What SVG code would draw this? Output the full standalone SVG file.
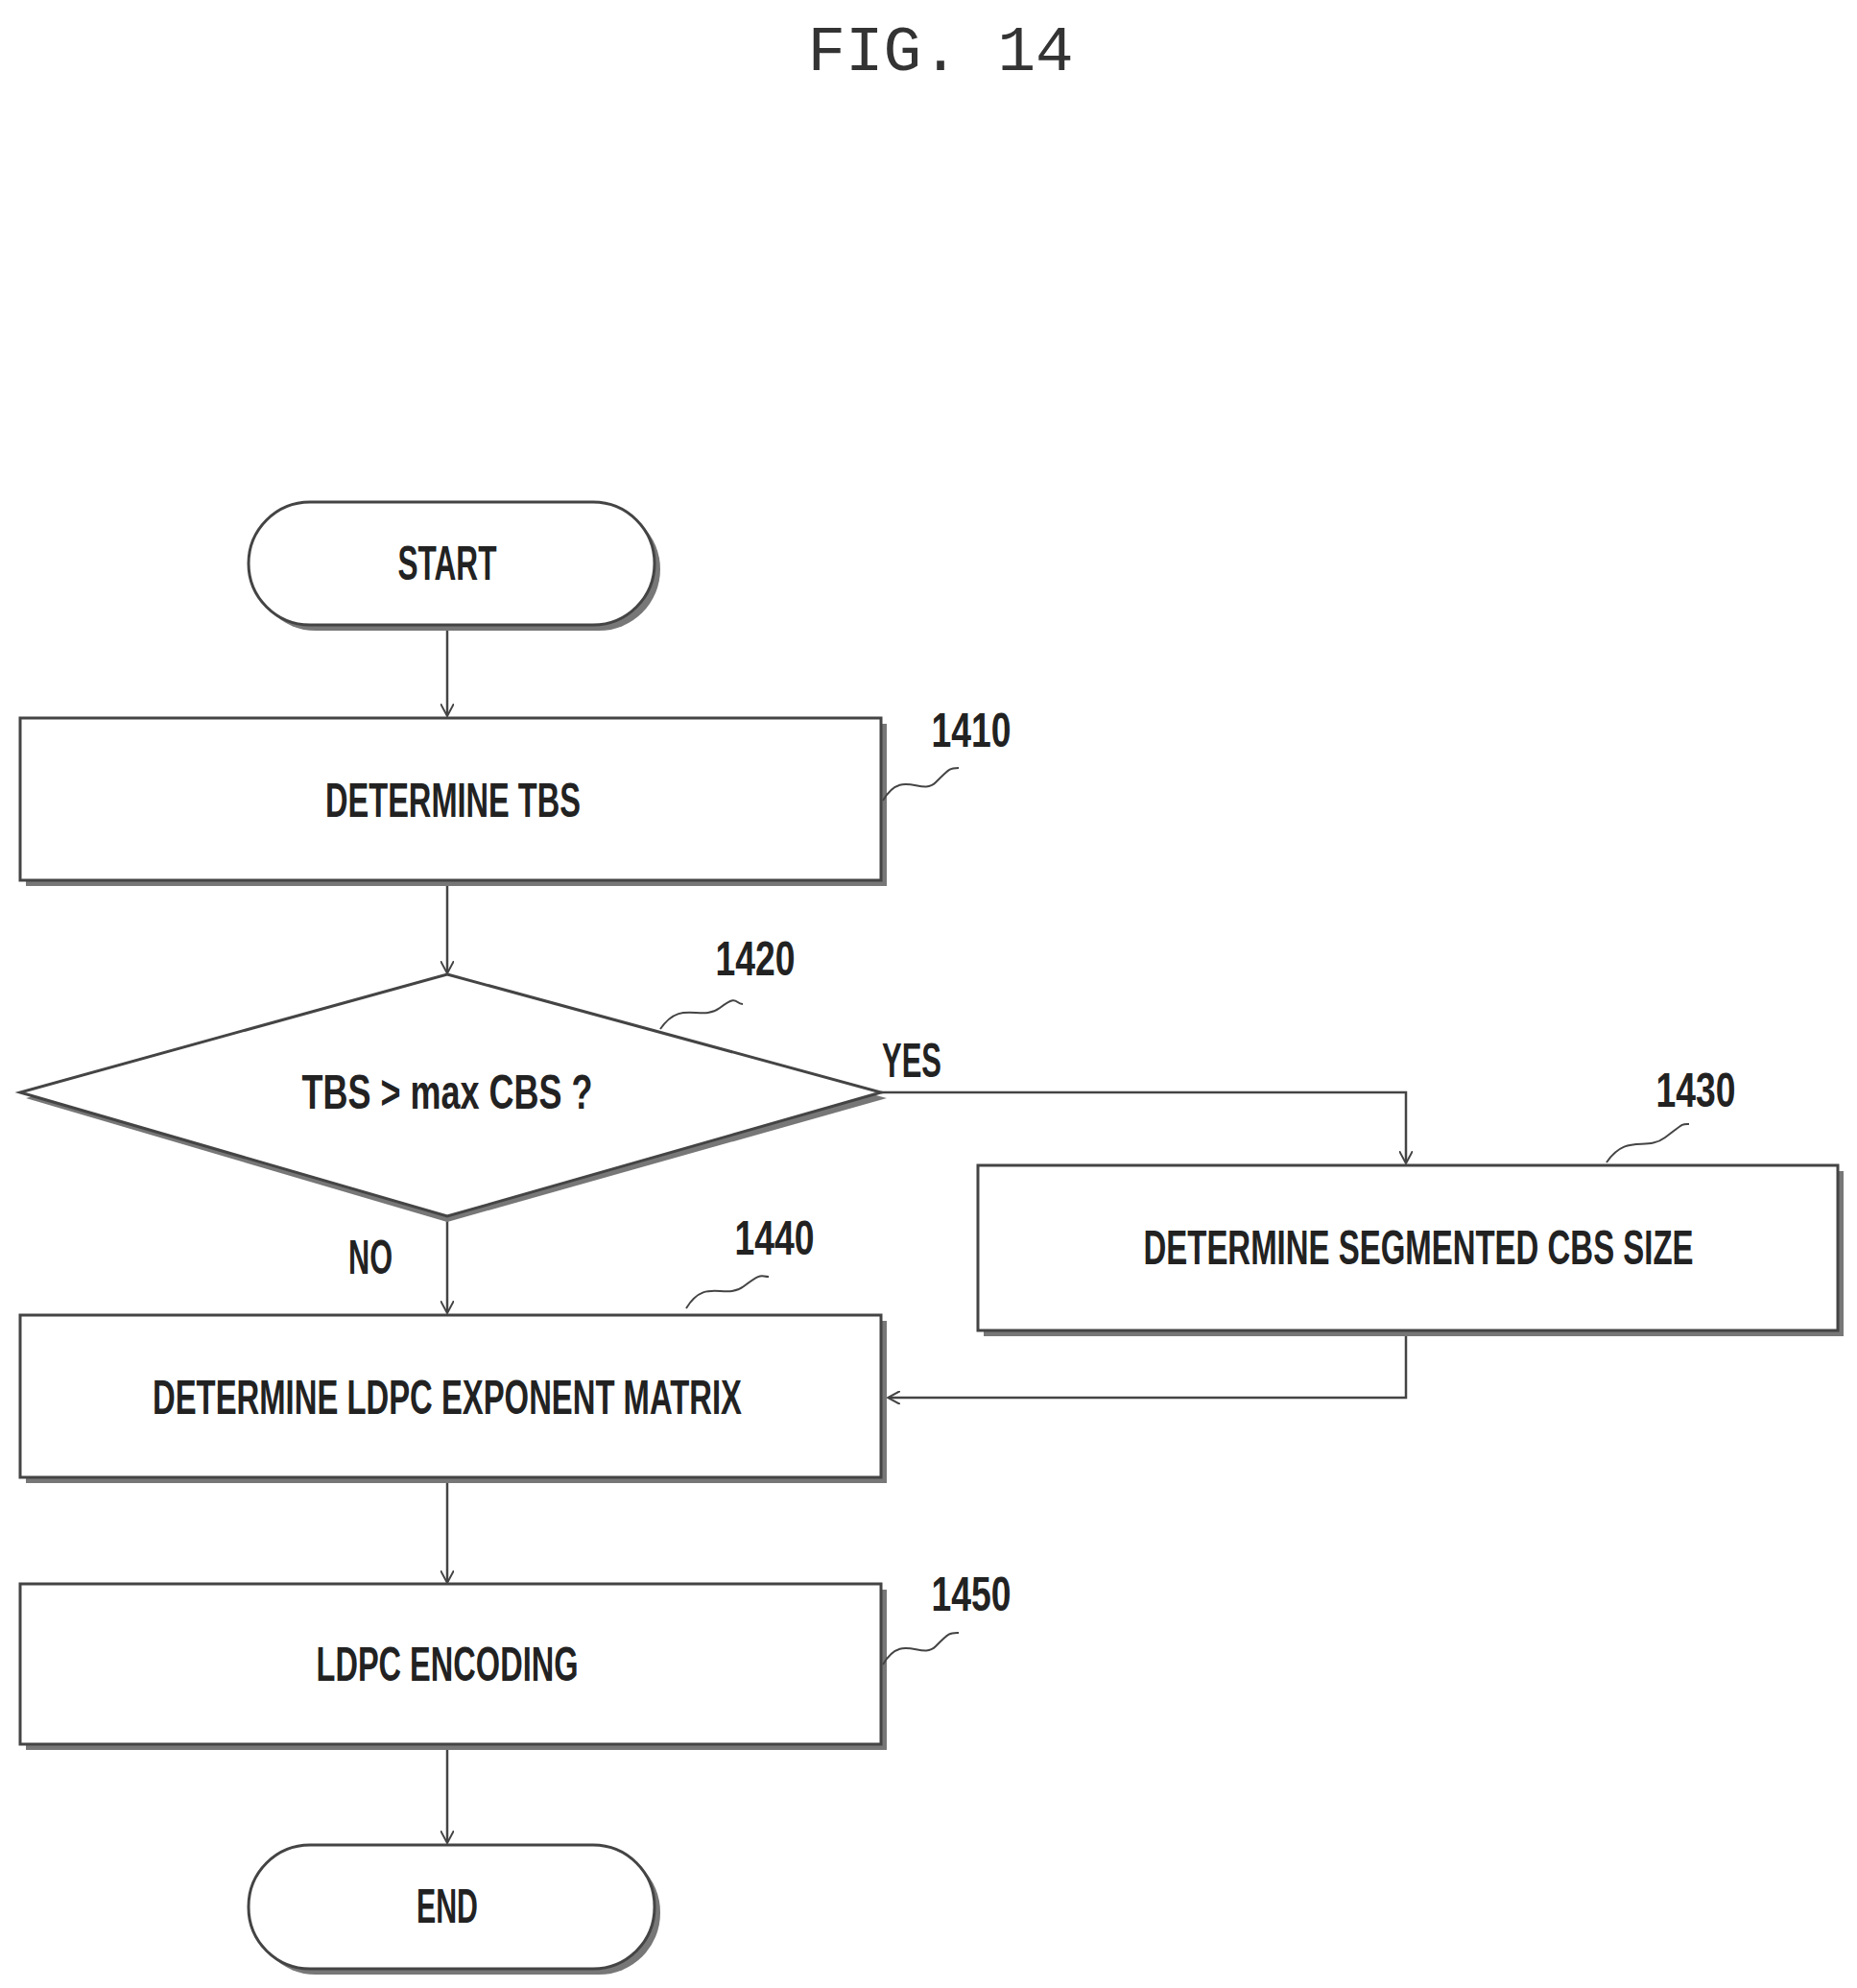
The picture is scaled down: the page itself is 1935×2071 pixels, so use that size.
<svg xmlns="http://www.w3.org/2000/svg" width="1935" height="2071" viewBox="0 0 1935 2071">
<defs>
<style>
.sh{fill:#777;stroke:none}
.bx{fill:#fff;stroke:#444;stroke-width:3}
.t{font-family:"Liberation Sans",sans-serif;font-weight:bold;font-size:50px;fill:#222;text-anchor:middle;dominant-baseline:central}
.lb{font-family:"Liberation Sans",sans-serif;font-weight:bold;font-size:50px;fill:#222;text-anchor:middle;dominant-baseline:central}
.ln{fill:none;stroke:#444;stroke-width:2.5}
.sq{fill:none;stroke:#444;stroke-width:2}
</style>
<marker id="ar" markerWidth="14" markerHeight="14" refX="12" refY="7" orient="auto" markerUnits="userSpaceOnUse">
<path d="M0,0 L13,7 L0,14" fill="none" stroke="#444" stroke-width="2"/>
</marker>
</defs>
<rect width="1935" height="2071" fill="#fff"/>
<text x="980" y="55" font-family="Liberation Mono,monospace" font-size="66" fill="#333" text-anchor="middle" dominant-baseline="central">FIG. 14</text>

<g id="connectors">
<line class="ln" x1="466" y1="651" x2="466" y2="745" marker-end="url(#ar)"/>
<line class="ln" x1="466" y1="917" x2="466" y2="1013" marker-end="url(#ar)"/>
<polyline class="ln" points="918,1138 1465,1138 1465,1211" marker-end="url(#ar)"/>
<line class="ln" x1="466" y1="1267" x2="466" y2="1367" marker-end="url(#ar)"/>
<polyline class="ln" points="1465,1386 1465,1456 926,1456" marker-end="url(#ar)"/>
<line class="ln" x1="466" y1="1539" x2="466" y2="1648" marker-end="url(#ar)"/>
<line class="ln" x1="466" y1="1817" x2="466" y2="1919" marker-end="url(#ar)"/>
<text class="lb" x="950" y="1105" textLength="62" lengthAdjust="spacingAndGlyphs">YES</text>
<text class="lb" x="386" y="1310" textLength="46" lengthAdjust="spacingAndGlyphs">NO</text>
</g>

<g id="start">
<rect class="sh" x="265" y="529" width="423" height="128" rx="64"/>
<rect class="bx" x="259" y="523" width="423" height="128" rx="64"/>
<text class="t" x="466" y="587" textLength="103" lengthAdjust="spacingAndGlyphs">START</text>
</g>

<g id="n1410">
<rect class="sh" x="27" y="754" width="897" height="169"/>
<rect class="bx" x="21" y="748" width="897" height="169"/>
<text class="t" x="472" y="834" textLength="266" lengthAdjust="spacingAndGlyphs">DETERMINE TBS</text>
<path class="sq" d="M920,834 C940,800 960,830 975,815 S990,800 999,800"/>
<text class="lb" x="1012" y="761" textLength="83" lengthAdjust="spacingAndGlyphs">1410</text>
</g>

<g id="n1420">
<polygon class="sh" points="466,1021 924,1144 466,1273 27,1144"/>
<polygon class="bx" points="466,1015 918,1138 466,1267 21,1138"/>
<text class="t" x="466" y="1138" textLength="303" lengthAdjust="spacingAndGlyphs">TBS &gt; max CBS ?</text>
<path class="sq" d="M688,1072 C710,1040 730,1065 750,1050 S765,1046 774,1046"/>
<text class="lb" x="787" y="999" textLength="83" lengthAdjust="spacingAndGlyphs">1420</text>
</g>

<g id="n1430">
<rect class="sh" x="1025" y="1220" width="896" height="172"/>
<rect class="bx" x="1019" y="1214" width="896" height="172"/>
<text class="t" x="1478" y="1300" textLength="573" lengthAdjust="spacingAndGlyphs">DETERMINE SEGMENTED CBS SIZE</text>
<path class="sq" d="M1674,1211 C1695,1180 1715,1200 1735,1185 S1752,1171 1760,1171"/>
<text class="lb" x="1767" y="1136" textLength="83" lengthAdjust="spacingAndGlyphs">1430</text>
</g>

<g id="n1440">
<rect class="sh" x="27" y="1376" width="897" height="169"/>
<rect class="bx" x="21" y="1370" width="897" height="169"/>
<text class="t" x="466" y="1456" textLength="614" lengthAdjust="spacingAndGlyphs">DETERMINE LDPC EXPONENT MATRIX</text>
<path class="sq" d="M715,1363 C735,1330 755,1355 775,1340 S792,1330 801,1330"/>
<text class="lb" x="807" y="1290" textLength="83" lengthAdjust="spacingAndGlyphs">1440</text>
</g>

<g id="n1450">
<rect class="sh" x="27" y="1656" width="897" height="167"/>
<rect class="bx" x="21" y="1650" width="897" height="167"/>
<text class="t" x="466" y="1734" textLength="273" lengthAdjust="spacingAndGlyphs">LDPC ENCODING</text>
<path class="sq" d="M920,1734 C940,1700 960,1730 975,1715 S990,1701 999,1701"/>
<text class="lb" x="1012" y="1661" textLength="83" lengthAdjust="spacingAndGlyphs">1450</text>
</g>

<g id="end">
<rect class="sh" x="265" y="1928" width="423" height="129" rx="64"/>
<rect class="bx" x="259" y="1922" width="423" height="129" rx="64"/>
<text class="t" x="466" y="1986" textLength="64" lengthAdjust="spacingAndGlyphs">END</text>
</g>
</svg>
